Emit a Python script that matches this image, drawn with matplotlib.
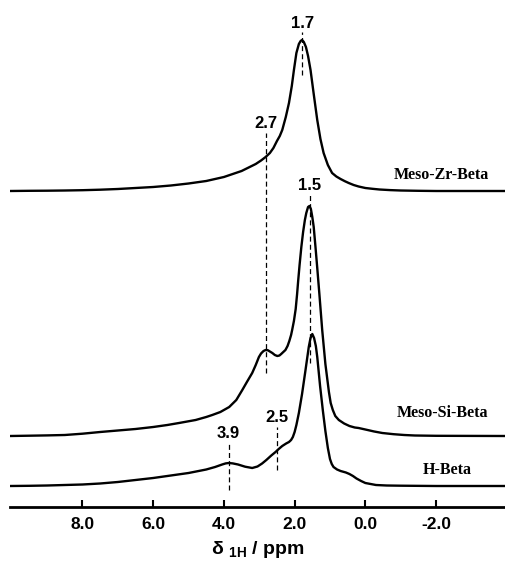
import numpy as np
import matplotlib
matplotlib.use('Agg')
import matplotlib.pyplot as plt

# chemical shift (ppm) and intensity above baseline
zr_ppm = [10.05, 9.5, 9.0, 8.5, 8.0, 7.5, 7.0, 6.5, 6.0, 5.5, 5.0, 4.5, 4.0, 3.75,
          3.5, 3.3, 3.1, 2.95, 2.82, 2.7, 2.6, 2.5, 2.42, 2.35, 2.25, 2.16, 2.08,
          2.02, 1.95, 1.88, 1.83, 1.79, 1.74, 1.68, 1.62, 1.55, 1.46, 1.36, 1.27,
          1.18, 1.06, 0.94, 0.82, 0.7, 0.58, 0.47, 0.33, 0.19, 0.0, -0.2, -0.4,
          -0.7, -1.0, -1.5, -2.0, -3.95]
zr_int = [0, 0.2, 0.3, 0.5, 0.8, 1.3, 2, 3, 4, 5.5, 7.5, 10, 14, 17,
          20, 23.5, 27, 30.5, 34, 38, 43, 50, 55, 61, 74, 88, 105,
          121, 138, 147, 150, 151, 149, 144, 135, 121, 97, 71, 52,
          38, 26, 18, 14.5, 12, 9.8, 8, 6, 4.5, 3, 2.2, 1.5,
          0.9, 0.5, 0.2, 0, 0]

si_ppm = [10.05, 9.5, 9.0, 8.5, 8.0, 7.5, 7.0, 6.5, 6.0, 5.6, 5.27, 4.8, 4.5, 4.33,
          4.1, 3.85, 3.65, 3.48, 3.35, 3.2, 3.1, 3.01, 2.95, 2.88, 2.82, 2.76, 2.7,
          2.63, 2.56, 2.49, 2.43, 2.38, 2.32, 2.26, 2.2, 2.15, 2.1, 2.07, 2.02, 1.97,
          1.93, 1.9, 1.86, 1.81, 1.76, 1.71, 1.67, 1.62, 1.58, 1.54, 1.5, 1.46, 1.41,
          1.36, 1.3, 1.22, 1.13, 1.08, 1.03, 0.98, 0.92, 0.85, 0.75, 0.6, 0.45, 0.3,
          0.19, 0.0, -0.25, -0.48, -0.8, -1.1, -1.4, -2.0, -3.95]
si_int = [0, 0.3, 0.6, 1, 2.3, 4, 5.5, 7, 9, 11, 13, 16, 19, 21,
          24, 29, 36, 46, 54, 63, 71, 79, 82.5, 85, 86, 85.8, 84.5,
          83, 81, 80, 80.5, 82, 84, 86, 90, 95, 101, 106, 115, 127,
          142, 155, 171, 189, 204, 216, 223, 229, 230, 227, 219, 209, 189,
          168, 142, 106, 72, 58, 44, 33, 26, 20, 16, 12.5, 10, 8.5,
          8, 6.5, 4.5, 3, 1.8, 1, 0.5, 0.2, 0]

h_ppm = [10.05, 9.5, 9.0, 8.5, 8.0, 7.5, 7.0, 6.5, 6.0, 5.5, 5.0, 4.5, 4.25, 4.05,
         3.95, 3.86, 3.75, 3.6, 3.4, 3.2, 3.05, 2.92, 2.8, 2.66, 2.54, 2.45, 2.35,
         2.24, 2.16, 2.1, 2.05, 2.0, 1.95, 1.88, 1.79, 1.7, 1.6, 1.55, 1.5, 1.45,
         1.4, 1.36, 1.28, 1.2, 1.13, 1.06, 1.0, 0.95, 0.9, 0.8, 0.7, 0.55, 0.45,
         0.35, 0.25, 0.12, 0.0, -0.15, -0.3, -0.6, -1.0, -2.0, -3.95]
h_int = [0, 0.2, 0.5, 1, 1.5, 2.5, 4, 6, 8, 10.5, 13, 16.5, 19, 21.5,
         22.6, 23, 22.6, 21.5, 19.3, 18, 19.5, 22.5, 26, 30.5, 34, 37, 40,
         42.5, 44, 46, 49, 54, 61, 73, 92, 114, 139, 148, 152, 148,
         140, 129, 100, 75, 55, 38, 27, 22, 19, 16.5, 15, 13.5, 12,
         10, 7.5, 5, 3, 2, 1, 0.5, 0.3, 0, 0]

names = ['Meso-Zr-Beta', 'Meso-Si-Beta', 'H-Beta']
offsets = [316, 71, 21]

# assignments marked with dashed lines
mark_labels = ['1.7', '2.7', '1.5', '2.5', '3.9']
mark_ppm = [1.78, 2.82, 1.57, 2.49, 3.87]
mark_top = [475, 374, 312, 80, 64]
mark_bottom = [432, 134, 144, 37, 17]
label_y = [484, 384, 322, 90, 74]

plt.rcParams['font.family'] = 'Liberation Sans'
plt.rcParams['font.weight'] = 'bold'
plt.rcParams['mathtext.fontset'] = 'custom'
plt.rcParams['mathtext.rm'] = 'Liberation Sans:bold'
plt.rcParams['mathtext.bf'] = 'Liberation Sans:bold'

fig = plt.figure(figsize=(5.05, 5.72), dpi=100)
ax = fig.add_axes([10 / 505, 65 / 572, 495 / 505, 507 / 572])

for x, y, off in zip([zr_ppm, si_ppm, h_ppm], [zr_int, si_int, h_int], offsets):
    ax.plot(x, np.array(y) + off, color='black', lw=1.7,
            solid_joinstyle='round', solid_capstyle='round')

for lab, p, t, b, ly in zip(mark_labels, mark_ppm, mark_top, mark_bottom, label_y):
    ax.plot([p, p], [b, t], color='black', lw=0.9, ls=(0, (4, 2.5)))
    ax.text(p, ly, lab, ha='center', va='center', fontsize=12, fontweight='bold')

name_x = [-3.5, -3.48, -3.0]
name_y = [332, 94, 37]
for n, x, y in zip(names, name_x, name_y):
    ax.text(x, y, n, ha='right', va='center', fontsize=11.5, fontweight='bold',
            family='Liberation Serif')

ax.set_xlim(10.05, -3.95)
ax.set_ylim(0, 507)
for s in ['top', 'left', 'right']:
    ax.spines[s].set_visible(False)
ax.spines['bottom'].set_linewidth(2)
ax.set_yticks([])
ax.set_xticks([8, 6, 4, 2, 0, -2])
ax.set_xticklabels(['8.0', '6.0', '4.0', '2.0', '0.0', '-2.0'])
ax.tick_params(axis='x', direction='in', length=5, width=1.5, pad=7, labelsize=12.5)
ax.set_xlabel(r'δ $_{\mathrm{1H}}$ / ppm', fontsize=14, fontweight='bold', labelpad=5)

fig.savefig('out.png', dpi=100)
